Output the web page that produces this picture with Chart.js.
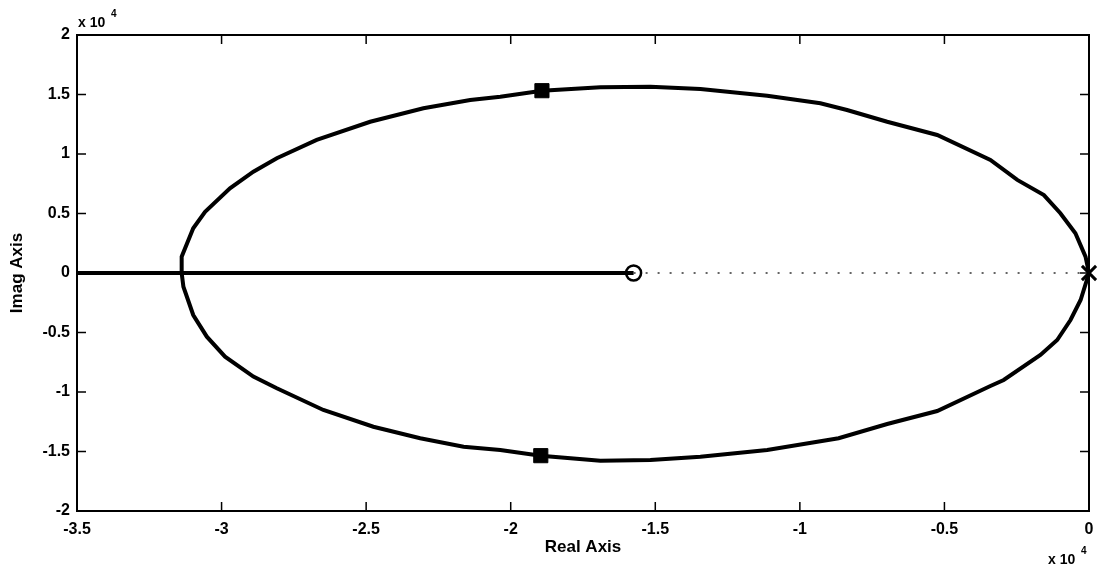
<!DOCTYPE html>
<html>
<head>
<meta charset="utf-8">
<script src="https://cdn.jsdelivr.net/npm/chart.js@4"></script>
<style>
  body { margin: 0; background: #fff; }
  canvas { display: block; }
</style>
</head>
<body>
<canvas id="locusChart" width="1099" height="569"></canvas>
<script>
// root locus branches, values in units of 10^4
const upperRe = [0, -0.012, -0.047, -0.099, -0.156, -0.248, -0.341, -0.525, -0.698, -0.837, -0.929, -1.113, -1.344, -1.517, -1.690, -1.892, -2.036, -2.140, -2.302, -2.486, -2.671, -2.809, -2.890, -2.971, -3.057, -3.098, -3.138, -3.138];
const upperIm = [0, 0.137, 0.334, 0.502, 0.655, 0.782, 0.950, 1.160, 1.271, 1.370, 1.426, 1.490, 1.546, 1.566, 1.561, 1.532, 1.482, 1.454, 1.384, 1.271, 1.118, 0.964, 0.851, 0.712, 0.515, 0.376, 0.137, 0];
const lowerRe = [0, -0.029, -0.064, -0.110, -0.168, -0.295, -0.341, -0.525, -0.698, -0.866, -1.113, -1.344, -1.517, -1.690, -1.896, -2.036, -2.163, -2.313, -2.475, -2.648, -2.809, -2.890, -2.988, -3.051, -3.098, -3.132, -3.138];
const lowerIm = [0, -0.227, -0.395, -0.563, -0.689, -0.899, -0.950, -1.160, -1.269, -1.389, -1.487, -1.544, -1.571, -1.577, -1.535, -1.487, -1.460, -1.389, -1.292, -1.151, -0.969, -0.871, -0.703, -0.535, -0.353, -0.115, 0];

const axisLocusRe = [-3.5, -1.575];   // solid part on the real axis
const dottedRe = [-1.575, 0];         // dotted part on the real axis
const squareRe = [-1.892, -1.896];
const squareIm = [1.532, -1.535];
const zeroRe = [-1.575];
const zeroIm = [0];
const poleRe = [0];
const poleIm = [0];

const xTicks = [-3.5, -3, -2.5, -2, -1.5, -1, -0.5, 0];
const yTicks = [-2, -1.5, -1, -0.5, 0, 0.5, 1, 1.5, 2];

function pts(re, im) {
  return re.map((x, i) => ({ x: x, y: im ? im[i] : 0 }));
}

const font = "'Liberation Sans', Arial, Helvetica, sans-serif";
const fmt = v => String(Math.round(v * 10) / 10);

const frameAndTicks = {
  id: 'frameAndTicks',
  afterDraw(chart) {
    const ctx = chart.ctx;
    const a = chart.chartArea;
    const xs = chart.scales.x, ys = chart.scales.y;
    ctx.save();
    ctx.strokeStyle = '#000';
    ctx.lineWidth = 2;
    ctx.strokeRect(a.left, a.top, a.right - a.left, a.bottom - a.top);
    ctx.lineWidth = 1.5;
    ctx.beginPath();
    xTicks.forEach(v => {
      const px = xs.getPixelForValue(v);
      ctx.moveTo(px, a.bottom); ctx.lineTo(px, a.bottom - 9);
      ctx.moveTo(px, a.top); ctx.lineTo(px, a.top + 9);
    });
    yTicks.forEach(v => {
      const py = ys.getPixelForValue(v);
      ctx.moveTo(a.left, py); ctx.lineTo(a.left + 9, py);
      ctx.moveTo(a.right, py); ctx.lineTo(a.right - 9, py);
    });
    ctx.stroke();

    ctx.fillStyle = '#000';
    ctx.textBaseline = 'alphabetic';
    ctx.textAlign = 'left';
    ctx.font = 'bold 14px ' + font;
    ctx.fillText('x 10', 78, 27);
    ctx.fillText('x 10', 1048, 564);
    ctx.font = 'bold 10px ' + font;
    ctx.fillText('4', 111, 17);
    ctx.fillText('4', 1081, 554);
    ctx.restore();
  }
};

new Chart(document.getElementById('locusChart'), {
  type: 'scatter',
  data: {
    datasets: [
      { data: pts(upperRe, upperIm), showLine: true, borderColor: '#000', borderWidth: 4, pointRadius: 0, tension: 0 },
      { data: pts(lowerRe, lowerIm), showLine: true, borderColor: '#000', borderWidth: 4, pointRadius: 0, tension: 0 },
      { data: pts(axisLocusRe), showLine: true, borderColor: '#000', borderWidth: 4, pointRadius: 0 },
      { data: pts(dottedRe), showLine: true, borderColor: '#333', borderWidth: 1.5, borderDash: [2, 10], pointRadius: 0 },
      { data: pts(squareRe, squareIm), pointStyle: 'rect', pointRadius: 10, backgroundColor: '#000', borderColor: '#000', borderWidth: 1 },
      { data: pts(zeroRe, zeroIm), pointStyle: 'circle', pointRadius: 7.5, backgroundColor: '#fff', borderColor: '#000', borderWidth: 2.5 },
      { data: pts(poleRe, poleIm), pointStyle: 'crossRot', pointRadius: 10, borderColor: '#000', borderWidth: 3, clip: false }
    ]
  },
  options: {
    responsive: false,
    animation: false,
    devicePixelRatio: 1,
    layout: { autoPadding: false, padding: { top: 35, right: 10, left: 0, bottom: 0 } },
    plugins: { legend: { display: false }, tooltip: { enabled: false } },
    scales: {
      x: {
        type: 'linear', min: -3.5, max: 0,
        afterFit: s => { s.height = 58; s.paddingLeft = 0; s.paddingRight = 0; },
        grid: { display: false, drawTicks: false },
        border: { display: false },
        ticks: { stepSize: 0.5, padding: 9, color: '#000', callback: fmt, font: { family: font, size: 16, weight: 'bold' }, maxRotation: 0, autoSkip: false },
        title: { display: true, text: 'Real Axis', color: '#000', font: { family: font, size: 17, weight: 'bold' }, padding: { top: 0, bottom: 11 } }
      },
      y: {
        type: 'linear', min: -2, max: 2,
        afterFit: s => { s.width = 77; s.paddingTop = 0; s.paddingBottom = 0; },
        grid: { display: false, drawTicks: false },
        border: { display: false },
        ticks: { stepSize: 0.5, padding: 7, color: '#000', callback: fmt, font: { family: font, size: 16, weight: 'bold' }, autoSkip: false },
        title: { display: true, text: 'Imag Axis', color: '#000', font: { family: font, size: 17, weight: 'bold' }, padding: { top: 7, bottom: 0 } }
      }
    }
  },
  plugins: [frameAndTicks]
});
</script>
</body>
</html>
